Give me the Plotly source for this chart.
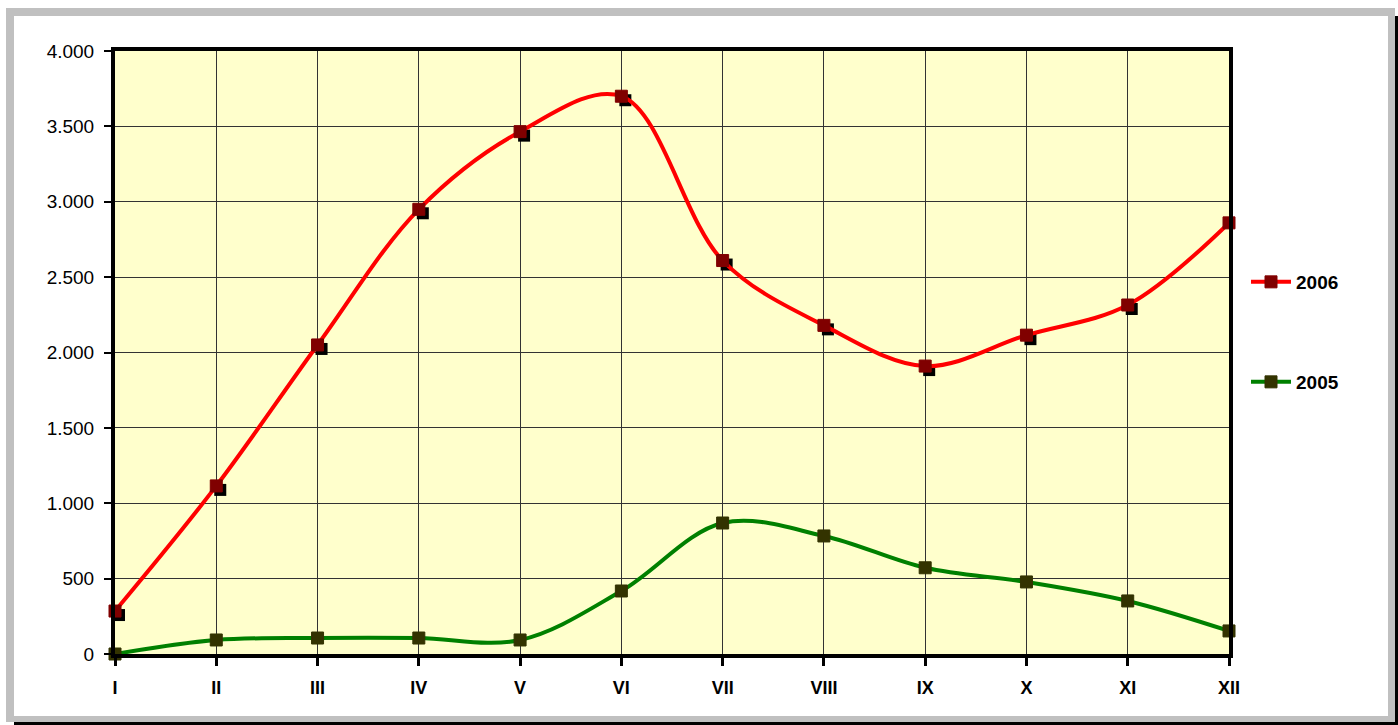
import plotly.graph_objects as go

months = ["I", "II", "III", "IV", "V", "VI", "VII", "VIII", "IX", "X", "XI", "XII"]
vals_2006 = [285, 1115, 2050, 2950, 3465, 3700, 2610, 2180, 1910, 2115, 2315, 2860]
vals_2005 = [0, 93, 106, 106, 93, 418, 869, 783, 572, 478, 352, 153]
y_ticks = [0, 500, 1000, 1500, 2000, 2500, 3000, 3500, 4000]

# plot-area pixel geometry
L, R, T, B = 115, 1229, 51, 654
W, H = 1398, 725
PW, PH = R - L, B - T

def px(x):
    return (x - L) / PW

def py(y):
    return (B - y) / PH

xi = list(range(len(months)))
# drop-shadow offset (about 4 px right and down)
dx = 4 / PW * (len(months) - 1)
dy = 4 / PH * 4000
sx = [i + dx for i in xi]

fig = go.Figure()

fig.add_trace(go.Scatter(
    x=sx, y=[v - dy for v in vals_2006], mode="markers",
    marker=dict(symbol="square", size=12, color="black", line=dict(width=0)),
    showlegend=False, hoverinfo="skip", cliponaxis=False))

fig.add_trace(go.Scatter(
    x=xi, y=vals_2006, name="2006", mode="lines+markers",
    line=dict(color="#FF0000", width=4, shape="spline", smoothing=1.0),
    marker=dict(symbol="square", size=12, color="#800000", line=dict(width=1, color="#800000")),
    cliponaxis=False, legend="legend"))
fig.add_trace(go.Scatter(
    x=xi, y=vals_2005, name="2005", mode="lines+markers",
    line=dict(color="#008000", width=4, shape="spline", smoothing=1.0),
    marker=dict(symbol="square", size=12, color="#333300", line=dict(width=1, color="#333300")),
    cliponaxis=False, legend="legend2"))

shapes = [
    # drop shadow of outer frame
    dict(type="rect", xref="paper", yref="paper", x0=px(14), x1=px(1400), y0=py(16), y1=py(727),
         fillcolor="black", line=dict(width=0), layer="below"),
    # gray frame
    dict(type="rect", xref="paper", yref="paper", x0=px(6), x1=px(1395), y0=py(8), y1=py(722),
         fillcolor="#C0C0C0", line=dict(width=0), layer="below"),
    # white inner
    dict(type="rect", xref="paper", yref="paper", x0=px(14), x1=px(1388), y0=py(16), y1=py(716),
         fillcolor="white", line=dict(width=0), layer="below"),
    # plot background
    dict(type="rect", xref="paper", yref="paper", x0=0, x1=1, y0=0, y1=1,
         fillcolor="#FFFFCC", line=dict(width=0), layer="below"),
]

legend_font = dict(family="Liberation Sans, Arial", size=19, color="black", weight="bold")

fig.update_layout(
    width=W, height=H,
    margin=dict(l=L, r=W - R, t=T, b=H - B, pad=0),
    paper_bgcolor="white",
    plot_bgcolor="rgba(0,0,0,0)",
    separators=",.",
    shapes=shapes,
    font=dict(family="Liberation Sans, Arial", size=18, color="black"),
    legend=dict(x=px(1246), y=py(282), xanchor="left", yanchor="middle",
                bgcolor="rgba(0,0,0,0)", font=legend_font, itemwidth=40),
    legend2=dict(x=px(1246), y=py(382), xanchor="left", yanchor="middle",
                 bgcolor="rgba(0,0,0,0)", font=legend_font, itemwidth=40),
    xaxis=dict(
        range=[0, len(months) - 1], tickmode="array", tickvals=xi, ticktext=months,
        showgrid=True, gridcolor="#333333", gridwidth=1,
        showline=True, linecolor="black", linewidth=4, mirror=True,
        ticks="outside", ticklen=8, tickwidth=3, tickcolor="black",
        tickfont=dict(family="Liberation Sans, Arial", size=18, color="black", weight="bold"),
        zeroline=False, ticklabelstandoff=6),
    yaxis=dict(
        range=[0, 4000], tickmode="array", tickvals=y_ticks, tickformat=",d",
        showgrid=True, gridcolor="#333333", gridwidth=1,
        showline=True, linecolor="black", linewidth=4, mirror=True,
        ticks="outside", ticklen=7, tickwidth=2, tickcolor="black",
        tickfont=dict(family="Liberation Sans, Arial", size=19, color="black"),
        zeroline=False, ticklabelstandoff=6),
)

fig.write_html("out.html", config={"displayModeBar": False},
               post_script="document.body.style.margin='0px';")
